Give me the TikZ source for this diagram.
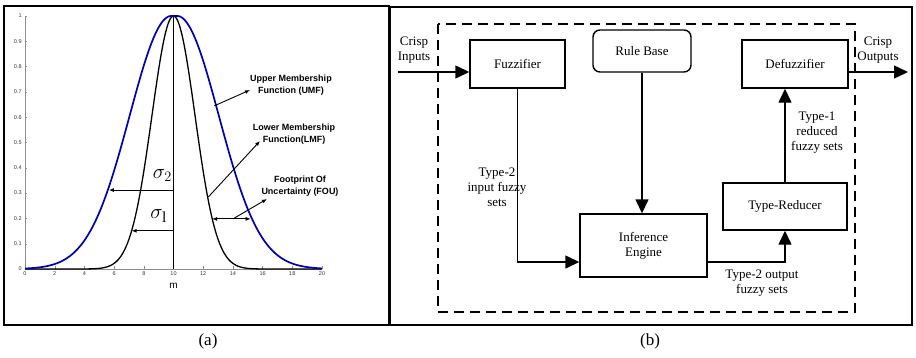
\documentclass[tikz,border=0pt]{standalone}
\usepackage{fontspec}
\setmainfont{Liberation Serif}
\setsansfont{Liberation Sans}
\usetikzlibrary{arrows.meta,calc}
\tikzset{
  blk/.style={draw,line width=1.4pt,minimum width=#1,align=center,font=\fontsize{13}{15}\selectfont,inner sep=0pt},
  lbl/.style={align=center,font=\fontsize{13}{15}\selectfont,inner sep=0pt},
  bigarr/.style={line width=1.4pt,-{Triangle[length=14pt,width=13pt]}},
  smallarr/.style={line width=0.9pt,-{Latex[length=5pt,width=4pt]}},
  annot/.style={align=center,font=\sffamily\bfseries\fontsize{9}{12.5}\selectfont,inner sep=0pt},
  tick/.style={font=\sffamily\fontsize{5.5}{6}\selectfont,text=black!80,inner sep=1pt},
  umf/.style={line width=1.7pt,draw=blue!70!black},
  lmf/.style={line width=1.3pt,draw=black},
  sig/.style={font=\fontsize{22}{23}\selectfont,inner sep=0pt}
}
\begin{document}
\begin{tikzpicture}[x=1pt,y=-1pt]
\useasboundingbox (0,0) rectangle (916,357);
% ---------------- panel (a) ----------------
\draw[line width=2.6pt] (4,6) rectangle (389,325);
\node[font=\fontsize{17}{19}\selectfont] (capa) at (208,341) {(a)};
\begin{scope}[shift={(25pt,-269pt)},x=14.85pt,y=253pt]
  % axes
  \draw[black!45,line width=0.5pt] (0,0) -- (20,0);
  \draw[black!45,line width=0.5pt] (0,0) -- (0,1);
  \foreach \t in {0,2,...,20}{
    \draw[black!45,line width=0.4pt] (\t,0) -- (\t,0.012);
    \node[tick,anchor=north] (xt\t) at (\t,-0.005) {\t};
  }
  \foreach \t/\l in {0/0,0.1/0.1,0.2/0.2,0.3/0.3,0.4/0.4,0.5/0.5,0.6/0.6,0.7/0.7,0.8/0.8,0.9/0.9,1/1}{
    \draw[black!45,line width=0.4pt] (0,\t) -- (0.15,\t);
    \node[tick,anchor=east] (yt\l) at (-0.15,\t) {\l};
  }
  \node[font=\sffamily\fontsize{10}{11}\selectfont,inner sep=0pt] (mlab) at (10,-0.066) {m};
  % vertical line at the mean
  \draw[line width=1.2pt] (10,0) -- (10,1);
  % lower MF
  \draw[lmf] plot[domain=0:20,samples=201,smooth] (\x,{exp(-(\x-10)^2/(2*1.45^2))});
  % upper MF
  \draw[umf] plot[domain=0:9.85,samples=90,smooth] (\x,{exp(-(\x-9.85)^2/(2*2.8^2))})
     -- (10.25,1)
     -- plot[domain=10.25:20,samples=90,smooth] (\x,{exp(-(\x-10.25)^2/(2*2.8^2))});
  % sigma arrows
  \coordinate (s2a) at (10,0.312);
  \coordinate (s2b) at (5.65,0.312);
  \coordinate (s1a) at (10,0.151);
  \coordinate (s1b) at (7.18,0.151);
  \draw[smallarr] (s2a) -- (s2b);
  \draw[smallarr] (s1a) -- (s1b);
  \node[sig] (sig2) at (9.25,0.37) {$\sigma_2$};
  \node[sig] (sig1) at (9.0,0.21) {$\sigma_{\mathrm{l}}$};
  % annotation arrows
  \coordinate (u0) at (12.75,0.645);
  \coordinate (l0) at (12.35,0.285);
  \coordinate (f1) at (12.6,0.198);
  \coordinate (f2) at (15.2,0.198);
  \coordinate (fm) at (14.0,0.198);
\end{scope}
\node[annot] (umflab) at (291,85) {Upper Membership\\Function (UMF)};
\node[annot] (lmflab) at (294,134) {Lower Membership\\Function(LMF)};
\node[annot] (foulab) at (300,186) {Footprint Of\\Uncertainty (FOU)};
\coordinate (u1) at (250,90);
\coordinate (l1) at (260,141);
\coordinate (fe) at (267,199);
\draw[smallarr] (u0) -- (u1);
\draw[smallarr] (l0) -- (l1);
\draw[line width=0.9pt,{Latex[length=5pt,width=4pt]}-{Latex[length=5pt,width=4pt]}] (f1) -- (f2);
\draw[smallarr] (fm) -- (fe);
% ---------------- panel (b) ----------------
\draw[line width=2pt] (390,7) rectangle (912,325);
\node[font=\fontsize{17}{19}\selectfont] (capb) at (650,341) {(b)};
\draw[line width=1.6pt,dash pattern=on 10pt off 6pt] (438,24) rectangle (855,312);
\node[blk=95pt,minimum height=48pt] (fuzz) at (517.5,64) {Fuzzifier};
\node[blk=98pt,minimum height=42pt,rounded corners=7pt] (rule) at (642,51) {Rule Base};
\node[blk=106pt,minimum height=48pt] (defz) at (795,64) {Defuzzifier};
\node[blk=124pt,minimum height=47pt] (tr) at (785,206.5) {Type-Reducer};
\node[blk=127pt,minimum height=63pt] (inf) at (643.5,245.5) {Inference\\Engine};
\coordinate (cin) at (398,72);
\coordinate (cout) at (908,72);
\draw[bigarr] (cin) -- ([yshift=-8pt]fuzz.west);
\draw[bigarr] (fuzz.south) |- ([yshift=-16.5pt]inf.west);
\draw[bigarr] (rule.south) -- (rule.south |- inf.north);
\draw[bigarr] ([yshift=-16.5pt]inf.east) -| (tr.south);
\draw[bigarr] (tr.north) -- (tr.north |- defz.south);
\draw[bigarr] ([yshift=-8pt]defz.east) -- (cout);
\node[lbl] (cinlab) at (414,50) {Crisp\\Inputs};
\node[lbl] (coutlab) at (878,50) {Crisp\\Outputs};
\node[lbl] (t2in) at (497,187) {Type-2\\input fuzzy\\sets};
\node[lbl] (t2out) at (762,283) {Type-2 output\\fuzzy sets};
\node[lbl] (t1red) at (817,133) {Type-1\\reduced\\fuzzy sets};
\end{tikzpicture}
\end{document}
